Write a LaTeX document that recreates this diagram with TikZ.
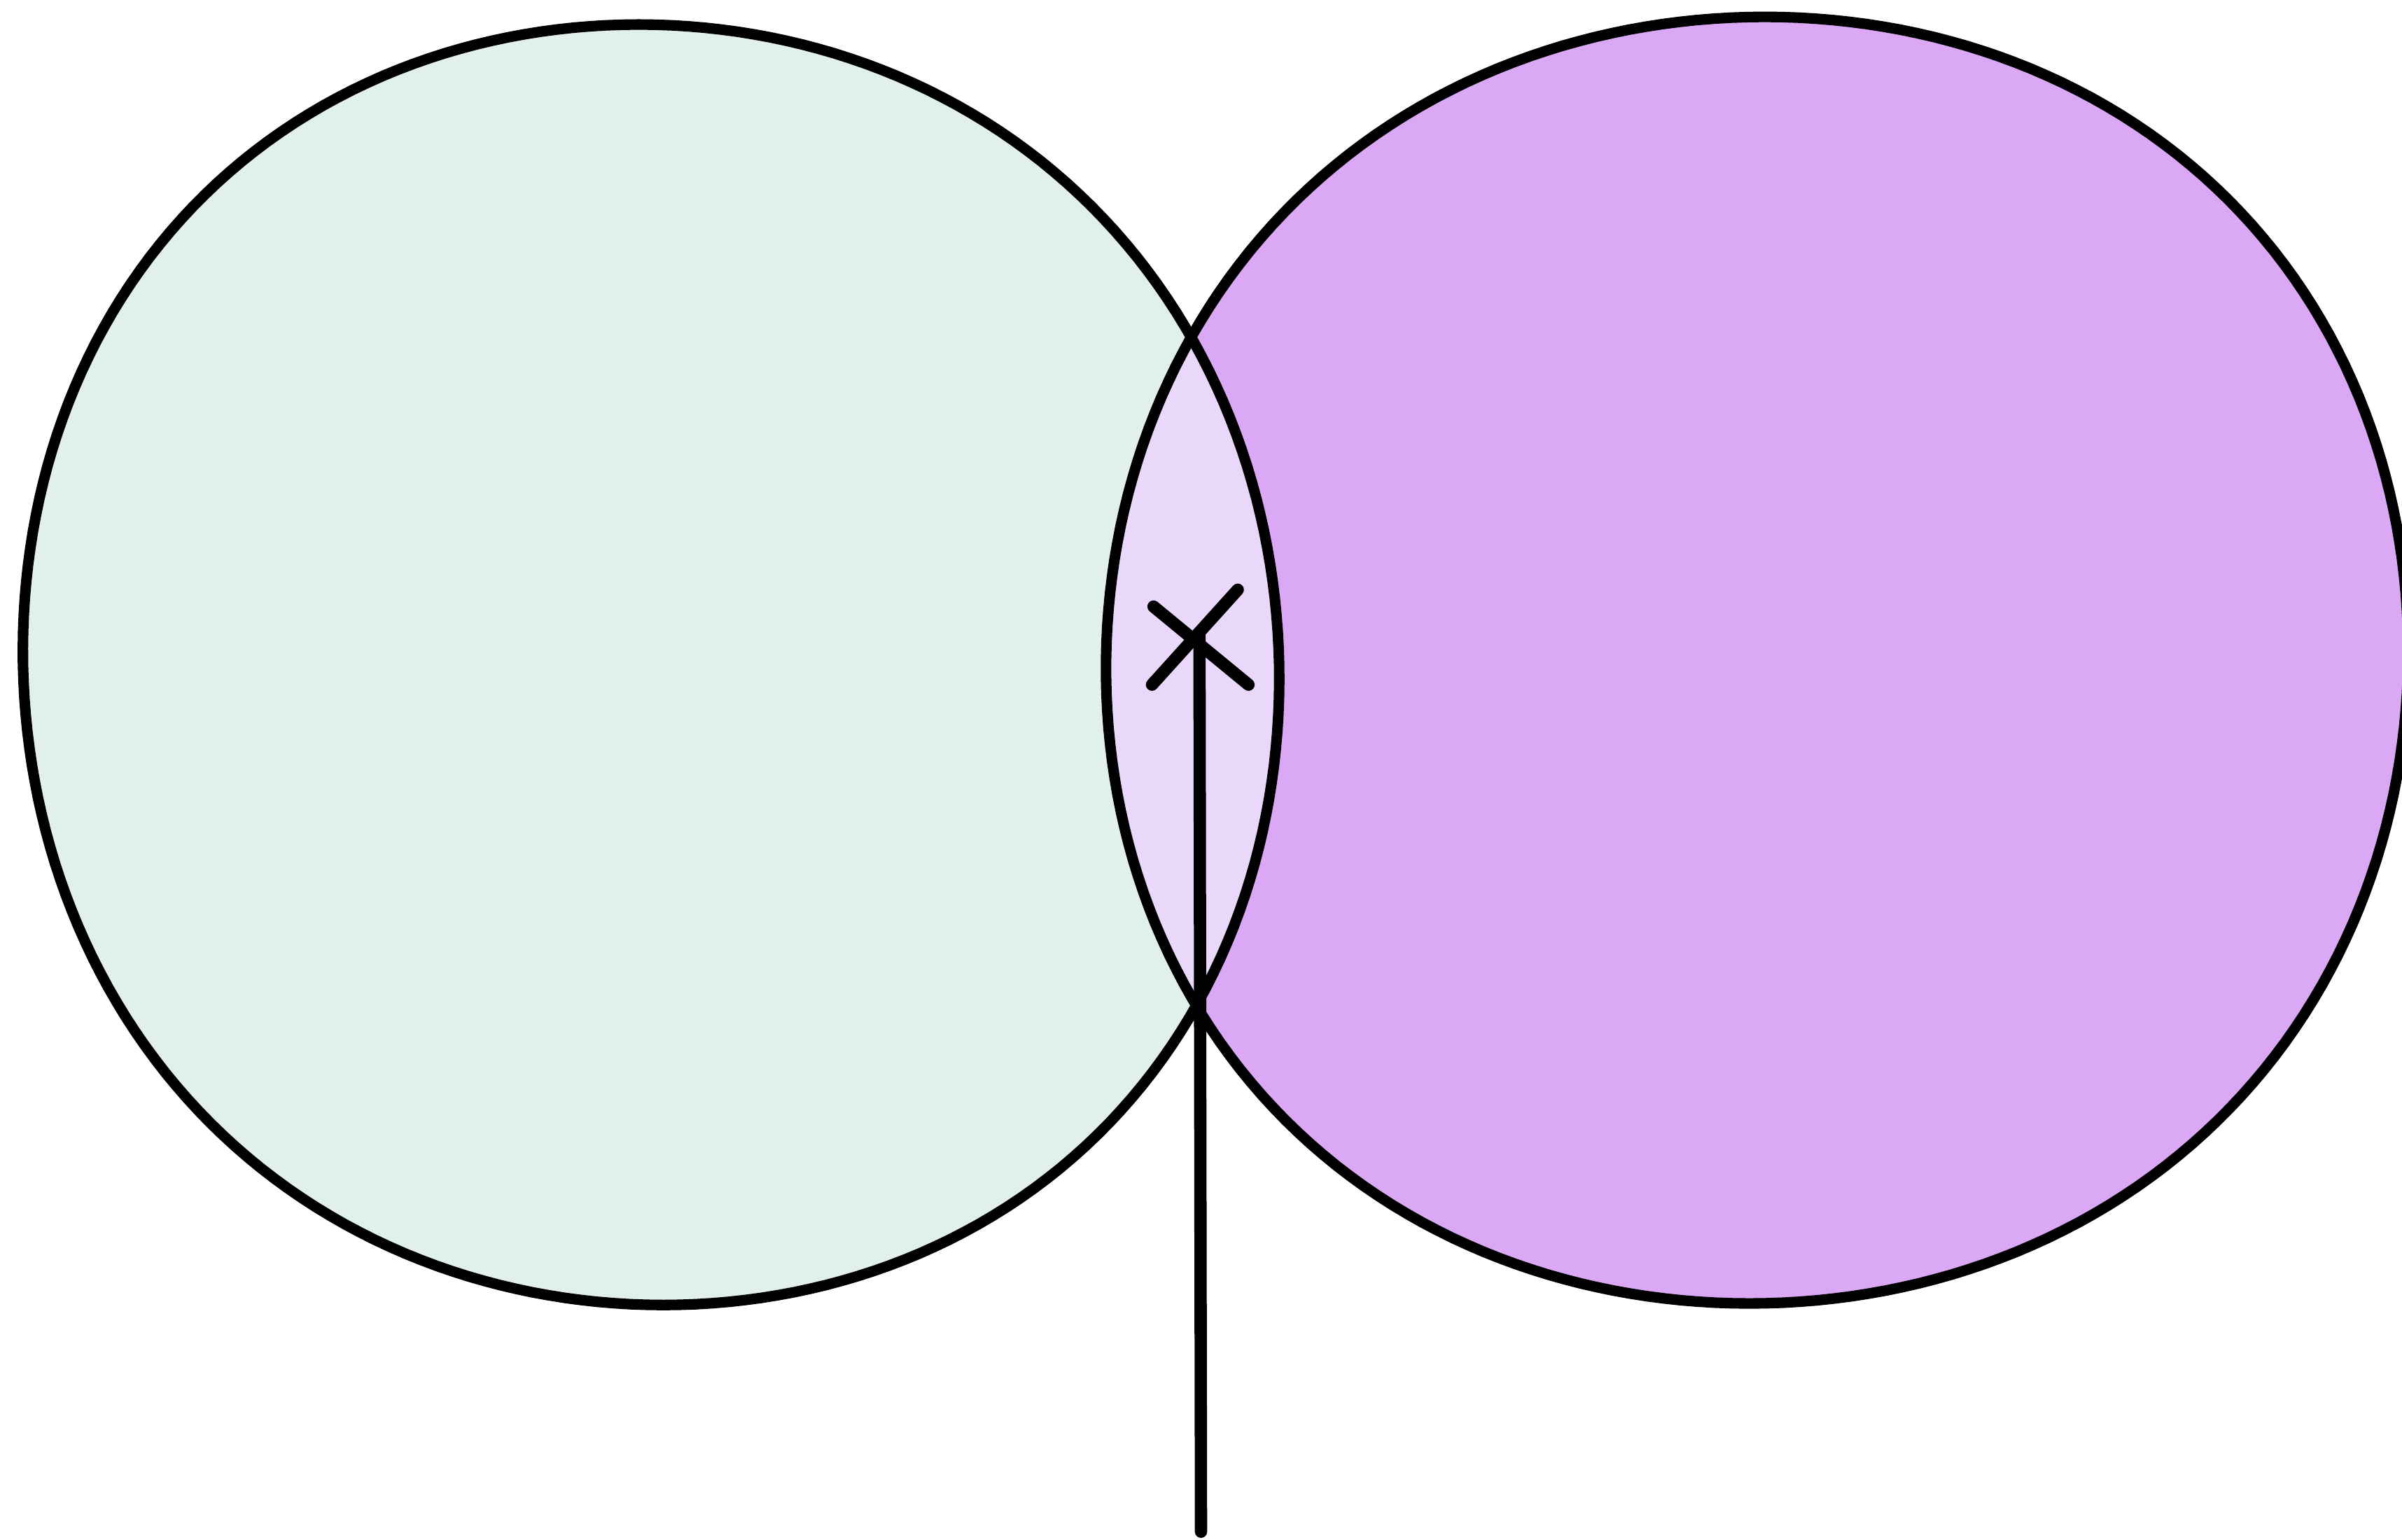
\documentclass[tikz,border=0pt]{standalone}
\definecolor{leftfill}{HTML}{E1F0E8}
\definecolor{rightfill}{HTML}{DBA8F5}
\definecolor{midfill}{HTML}{E9D8FA}
\tikzset{
  outline/.style={line width=4.3pt, line join=round},
  stroke/.style={line width=5pt, line cap=round},
}
\begin{document}
\begin{tikzpicture}[x=0.021882cm, y=-0.021882cm]
\useasboundingbox (0,0) rectangle (1568,1005.4);
\fill[white] (0,0) rectangle (1568,1005.4);
\def\leftpath{plot[domain=0:360, samples=241]
 ({425-8*sin(\x)+410*cos(\x)*(1+0.012*pow(sin(2*\x),2))},
  {434-418*sin(\x)*(1+0.012*pow(sin(2*\x),2))}) -- cycle}
\def\rightpath{plot[domain=0:360, samples=241]
 ({1147+5*sin(\x)+425*cos(\x)*(1+0.012*pow(sin(2*\x),2))},
  {431-420*sin(\x)*(1+0.012*pow(sin(2*\x),2))}) -- cycle}
\fill[leftfill] \leftpath;
\fill[rightfill] \rightpath;
\begin{scope}
  \clip \leftpath;
  \fill[midfill] \rightpath;
\end{scope}
\draw[outline] \leftpath;
\draw[outline] \rightpath;
\coordinate (mark) at (783,415);
\coordinate (base) at (784,1000);
\draw[stroke] (753,396) -- (815,447);
\draw[stroke] (752,447) -- (808,385);
\draw[stroke] (base) -- (mark);
\end{tikzpicture}
\end{document}
